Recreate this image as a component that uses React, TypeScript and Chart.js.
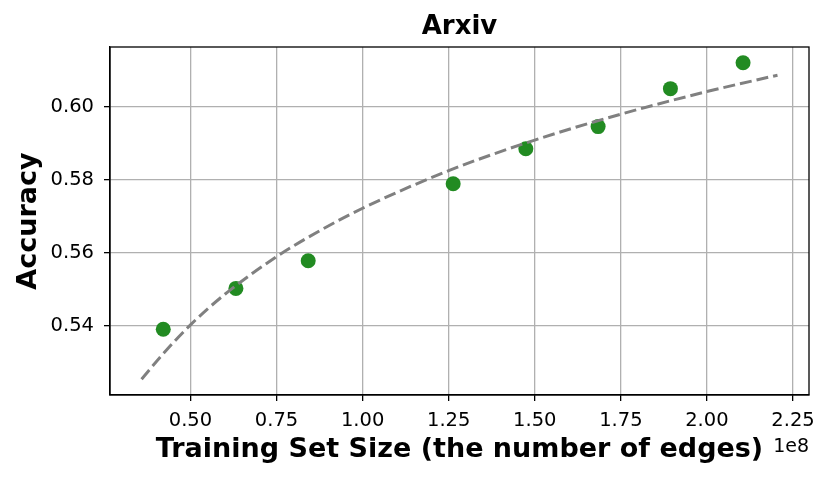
import React, { useEffect, useRef } from "react";
import { Chart, registerables } from "chart.js";

Chart.register(...registerables);

// Training set size (in units of 1e8 edges)
const trainSizes = [0.421, 0.632, 0.842, 1.263, 1.474, 1.684, 1.894, 2.105];
const accuracies = [0.539, 0.5502, 0.5578, 0.5789, 0.5885, 0.5946, 0.605, 0.6121];

// Fitted trend curve
const fitSizes = [0.358, 0.42, 0.5, 0.6, 0.75, 0.875, 1.0, 1.25, 1.5, 1.75, 2.0, 2.205];
const fitAcc = [0.5253, 0.5322, 0.5402, 0.5486, 0.5589, 0.566, 0.5722, 0.5825, 0.5909, 0.598, 0.6042, 0.6087];

const xTicks = [0.5, 0.75, 1.0, 1.25, 1.5, 1.75, 2.0, 2.25];
const yTicks = [0.54, 0.56, 0.58, 0.6];

const titleText = "Arxiv";
const xLabel = "Training Set Size (the number of edges)";
const yLabel = "Accuracy";
const offsetText = "1e8";

const FONT = "'DejaVu Sans', sans-serif";

export default function App() {
  const ref = useRef<HTMLCanvasElement | null>(null);
  useEffect(() => {
    document.body.style.margin = "0";
    const canvas = ref.current;
    if (!canvas) return;
    const textPlugin = {
      id: "texts",
      afterDraw(chart: any) {
        const { ctx, chartArea } = chart;
        const { left, right, top, bottom } = chartArea;
        ctx.save();
        ctx.strokeStyle = "#000";
        ctx.lineWidth = 1.3;
        ctx.strokeRect(left, top, right - left, bottom - top);
        const cx = (left + right) / 2;
        ctx.fillStyle = "#000";
        ctx.textAlign = "center";
        ctx.textBaseline = "alphabetic";
        ctx.font = `bold 26px ${FONT}`;
        ctx.fillText(titleText, cx, 34);
        ctx.font = `bold 27px ${FONT}`;
        ctx.fillText(xLabel, cx, 457);
        ctx.save();
        ctx.translate(36, (top + bottom) / 2);
        ctx.rotate(-Math.PI / 2);
        ctx.fillText(yLabel, 0, 0);
        ctx.restore();
        ctx.font = `19px ${FONT}`;
        ctx.textAlign = "right";
        ctx.fillText(offsetText, right, 452);
        ctx.restore();
      },
    };
    const chart = new Chart(canvas, {
      type: "scatter",
      data: {
        datasets: [
          {
            type: "line",
            data: fitSizes.map((x, i) => ({ x, y: fitAcc[i] })),
            borderColor: "#808080",
            borderWidth: 3,
            borderDash: [12, 5],
            pointRadius: 0,
            fill: false,
            cubicInterpolationMode: "monotone",
            order: 0,
          } as any,
          {
            data: trainSizes.map((x, i) => ({ x, y: accuracies[i] })),
            backgroundColor: "#228B22",
            borderColor: "#228B22",
            borderWidth: 0,
            pointRadius: 7.5,
            order: 1,
          },
        ],
      },
      options: {
        responsive: false,
        animation: false,
        layout: { padding: { top: 47, right: 22, left: 0, bottom: 0 } },
        plugins: { legend: { display: false }, tooltip: { enabled: false }, title: { display: false } },
        scales: {
          x: {
            type: "linear",
            min: 0.2663,
            max: 2.2965,
            afterBuildTicks: (s: any) => {
              s.ticks = xTicks.map((v) => ({ value: v }));
            },
            afterFit: (s: any) => {
              s.height = 85;
            },
            ticks: {
              callback: (v: any) => Number(v).toFixed(2),
              color: "#000",
              font: { family: FONT, size: 19.5 },
              padding: 8,
              maxRotation: 0,
              autoSkip: false,
            },
            grid: { color: "#b0b0b0", lineWidth: 1.3, tickLength: 6, tickColor: "#000", tickWidth: 1.3 },
            border: { display: true, color: "#000", width: 1.3 },
          },
          y: {
            type: "linear",
            min: 0.52096,
            max: 0.61643,
            afterBuildTicks: (s: any) => {
              s.ticks = yTicks.map((v) => ({ value: v }));
            },
            afterFit: (s: any) => {
              s.width = 110;
            },
            ticks: {
              callback: (v: any) => Number(v).toFixed(2),
              color: "#000",
              font: { family: FONT, size: 19.5 },
              padding: 10,
              autoSkip: false,
            },
            grid: { color: "#b0b0b0", lineWidth: 1.3, tickLength: 6, tickColor: "#000", tickWidth: 1.3 },
            border: { display: true, color: "#000", width: 1.3 },
          },
        },
      },
      plugins: [textPlugin],
    });
    return () => chart.destroy();
  }, []);
  return (
    <div style={{ width: 831, height: 480, background: "#fff" }}>
      <canvas ref={ref} width={831} height={480} />
    </div>
  );
}
